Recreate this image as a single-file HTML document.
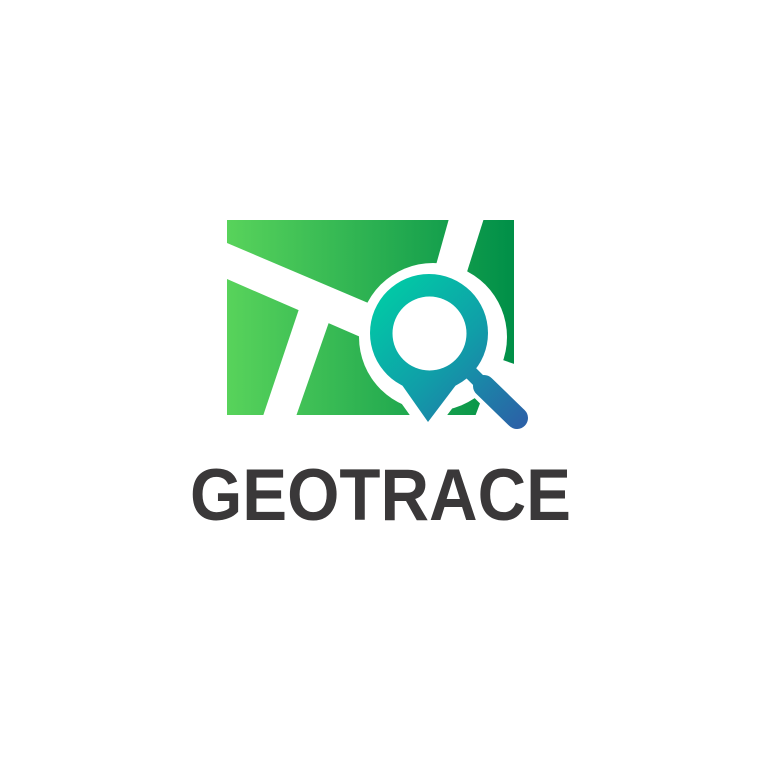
<!DOCTYPE html>
<html><head><meta charset="utf-8"><style>
html,body{margin:0;padding:0;background:#fff;}
svg{display:block;}
</style></head><body>
<svg width="757" height="757" viewBox="0 0 757 757">
<defs>
<linearGradient id="g" x1="227" y1="0" x2="514" y2="0" gradientUnits="userSpaceOnUse">
<stop offset="0" stop-color="#58d35b"/><stop offset="1" stop-color="#008f48"/>
</linearGradient>
<linearGradient id="m" x1="380" y1="285" x2="520" y2="425" gradientUnits="userSpaceOnUse">
<stop offset="0" stop-color="#00cca6"/><stop offset="0.5" stop-color="#109ea8"/><stop offset="1" stop-color="#2b62a7"/>
</linearGradient>
<clipPath id="rc"><rect x="227" y="220" width="287" height="195"/></clipPath>
</defs>
<g>
<rect x="227" y="220" width="287" height="195" fill="url(#g)"/>
<g clip-path="url(#rc)" fill="#fff">
<polygon points="220,240 380,308 372,342 220,276"/>
<polygon points="299,309 329,322 293,425 260,425"/>
<polygon points="450,215 485,215 466,275 436,265"/>
<polygon points="497,358 520,366 520,430 470,430"/>
</g>
</g>
<circle cx="433" cy="337" r="74" fill="#fff"/>
<g fill="#fff" stroke="#fff" stroke-linejoin="round">
<polygon points="398,390 460,390 428,432" stroke-width="10"/>
<line x1="470" y1="368" x2="518" y2="416" stroke-width="36" stroke-linecap="round"/>
</g>
<g fill="url(#m)">
<line x1="466" y1="368" x2="484" y2="386" stroke="url(#m)" stroke-width="14"/>
<line x1="484" y1="386" x2="517" y2="418" stroke="url(#m)" stroke-width="22" stroke-linecap="round"/>
<polygon points="402,385 456,385 428,422"/>
<circle cx="429" cy="333" r="59"/>
<circle cx="429.5" cy="333.5" r="37" fill="#fff"/>
</g>
<text x="190" y="520" textLength="381" lengthAdjust="spacingAndGlyphs" font-family="'Liberation Sans', sans-serif" font-weight="bold" font-size="73" fill="#3a3839">GEOTRACE</text>
</svg>
</body></html>
